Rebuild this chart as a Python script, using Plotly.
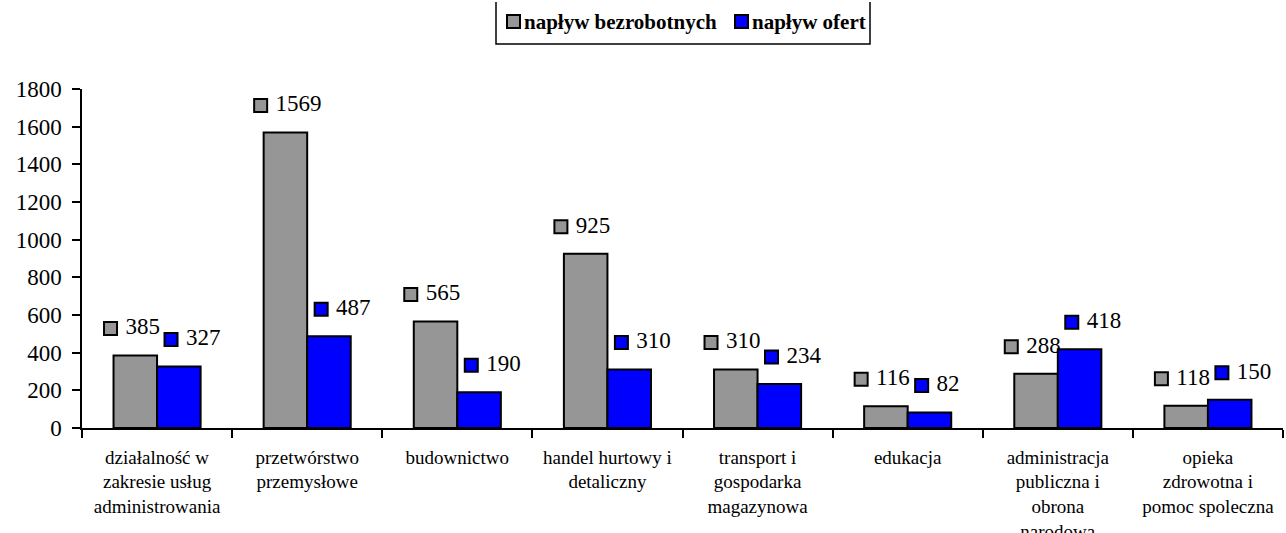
import plotly.graph_objects as go

categories = [
    "działalność w<br>zakresie usług<br>administrowania",
    "przetwórstwo<br>przemysłowe",
    "budownictwo",
    "handel hurtowy i<br>detaliczny",
    "transport i<br>gospodarka<br>magazynowa",
    "edukacja",
    "administracja<br>publiczna i<br>obrona<br>narodowa",
    "opieka<br>zdrowotna i<br>pomoc spoleczna",
]
naplyw_bezrobotnych = [385, 1569, 565, 925, 310, 116, 288, 118]
naplyw_ofert = [327, 487, 190, 310, 234, 82, 418, 150]
series_names = ["napływ bezrobotnych", "napływ ofert"]
y_ticks = [0, 200, 400, 600, 800, 1000, 1200, 1400, 1600, 1800]

GRAY = "#969696"
BLUE = "#0000FF"
FONT = "Liberation Serif"

W, H = 1286, 533
ML, MR, MT, MB = 82, 3, 89, 105
PW, PH = W - ML - MR, H - MT - MB


def px_x(X):
    return (X - ML) / PW


def px_y(Y):
    return (H - MB - Y) / PH


idx = list(range(len(categories)))
label_lift = 27 * 1800 / PH  # label sits ~27px above bar top

fig = go.Figure()
fig.add_trace(go.Bar(x=idx, y=naplyw_bezrobotnych, name=series_names[0],
                     marker=dict(color=GRAY, line=dict(color="black", width=2)),
                     showlegend=False))
fig.add_trace(go.Bar(x=idx, y=naplyw_ofert, name=series_names[1],
                     marker=dict(color=BLUE, line=dict(color="black", width=2)),
                     showlegend=False))

for vals, col, dx in [(naplyw_bezrobotnych, GRAY, -0.31), (naplyw_ofert, BLUE, 0.093)]:
    fig.add_trace(go.Scatter(
        x=[i + dx for i in idx], y=[v + label_lift for v in vals],
        mode="markers+text", text=["\u00a0" + str(v) for v in vals],
        textposition="middle right",
        textfont=dict(family=FONT, size=23, color="black"),
        marker=dict(symbol="square", size=13, color=col,
                    line=dict(color="black", width=2)),
        showlegend=False, hoverinfo="skip", cliponaxis=False))

# legend box (manual, Excel-like; its top edge is cut off by the picture)
box_path = "M {x0},{yt} L {x0},{yb} L {x1},{yb} L {x1},{yt}".format(
    x0=px_x(496), x1=px_x(870), yt=px_y(2), yb=px_y(44))
shapes = [
    dict(type="path", xref="paper", yref="paper", path=box_path,
         line=dict(color="black", width=1.5)),
    dict(type="rect", xref="paper", yref="paper", x0=px_x(507), x1=px_x(520), y0=px_y(28), y1=px_y(15),
         fillcolor=GRAY, line=dict(color="black", width=2)),
    dict(type="rect", xref="paper", yref="paper", x0=px_x(735), x1=px_x(748), y0=px_y(28), y1=px_y(15),
         fillcolor=BLUE, line=dict(color="black", width=2)),
]
annotations = [
    dict(xref="paper", yref="paper", x=px_x(522), y=px_y(22), xanchor="left", yanchor="middle",
         text="<b>" + series_names[0] + "</b>", showarrow=False,
         font=dict(family=FONT, size=21, color="black")),
    dict(xref="paper", yref="paper", x=px_x(750), y=px_y(22), xanchor="left", yanchor="middle",
         text="<b>" + series_names[1] + "</b>", showarrow=False,
         font=dict(family=FONT, size=21, color="black")),
]

fig.update_layout(
    width=W, height=H,
    margin=dict(l=ML, r=MR, t=MT, b=MB, autoexpand=False),
    paper_bgcolor="white", plot_bgcolor="white",
    barmode="group", bargap=0.42, bargroupgap=0,
    shapes=shapes, annotations=annotations,
    font=dict(family=FONT, color="black"),
    xaxis=dict(
        range=[-0.5, len(categories) - 0.5],
        tickvals=idx, ticktext=categories, ticks="",
        tickfont=dict(family=FONT, size=19, color="black"),
        showline=True, linecolor="black", linewidth=1.5,
        showgrid=False, zeroline=False, ticklabelstandoff=11,
        minor=dict(tickvals=[i - 0.5 for i in range(len(categories) + 1)],
                   ticks="outside", ticklen=8, tickcolor="black", tickwidth=1.5,
                   showgrid=False),
    ),
    yaxis=dict(
        range=[0, 1800], tickvals=y_ticks,
        ticks="outside", ticklen=8, tickcolor="black", tickwidth=1.5,
        tickfont=dict(family=FONT, size=23, color="black"),
        showline=True, linecolor="black", linewidth=1.5,
        showgrid=False, zeroline=False, ticklabelstandoff=6,
    ),
)

fig.write_html("out.html", config={"displayModeBar": False},
               post_script="document.body.style.margin='0';")
